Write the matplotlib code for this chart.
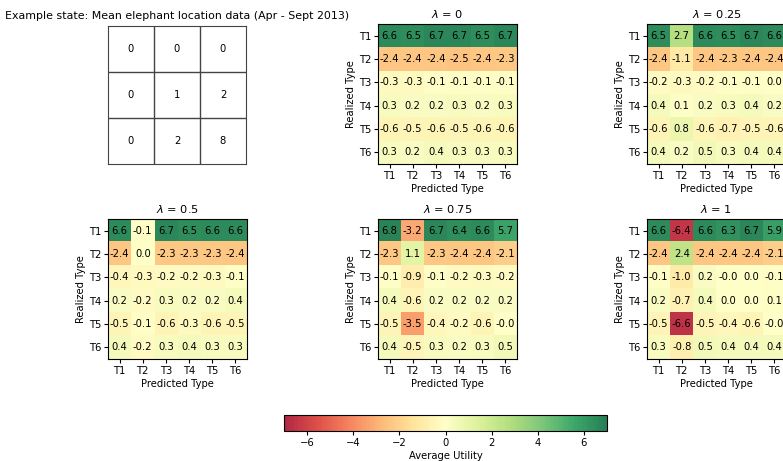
import numpy as np
import matplotlib
matplotlib.use("Agg")
import matplotlib.pyplot as plt
from matplotlib.colors import Normalize

types = ["T1", "T2", "T3", "T4", "T5", "T6"]
state_grid = [[0, 0, 0], [0, 1, 2], [0, 2, 8]]
lambdas = ["0", "0.25", "0.5", "0.75", "1"]

util_l0 = [[6.6, 6.5, 6.7, 6.7, 6.5, 6.7],
           [-2.4, -2.4, -2.4, -2.5, -2.4, -2.3],
           [-0.3, -0.3, -0.1, -0.1, -0.1, -0.1],
           [0.3, 0.2, 0.2, 0.3, 0.2, 0.3],
           [-0.6, -0.5, -0.6, -0.5, -0.6, -0.6],
           [0.3, 0.2, 0.4, 0.3, 0.3, 0.3]]
util_l025 = [[6.5, 2.7, 6.6, 6.5, 6.7, 6.6],
             [-2.4, -1.1, -2.4, -2.3, -2.4, -2.4],
             [-0.2, -0.3, -0.2, -0.1, -0.1, 0.0],
             [0.4, 0.1, 0.2, 0.3, 0.4, 0.2],
             [-0.6, 0.8, -0.6, -0.7, -0.5, -0.6],
             [0.4, 0.2, 0.5, 0.3, 0.4, 0.4]]
util_l05 = [[6.6, -0.1, 6.7, 6.5, 6.6, 6.6],
            [-2.4, 0.0, -2.3, -2.3, -2.3, -2.4],
            [-0.4, -0.3, -0.2, -0.2, -0.3, -0.1],
            [0.2, -0.2, 0.3, 0.2, 0.2, 0.4],
            [-0.5, -0.1, -0.6, -0.3, -0.6, -0.5],
            [0.4, -0.2, 0.3, 0.4, 0.3, 0.3]]
util_l075 = [[6.8, -3.2, 6.7, 6.4, 6.6, 5.7],
             [-2.3, 1.1, -2.3, -2.4, -2.4, -2.1],
             [-0.1, -0.9, -0.1, -0.2, -0.3, -0.2],
             [0.4, -0.6, 0.2, 0.2, 0.2, 0.2],
             [-0.5, -3.5, -0.4, -0.2, -0.6, -0.0],
             [0.4, -0.5, 0.3, 0.2, 0.3, 0.5]]
util_l1 = [[6.6, -6.4, 6.6, 6.3, 6.7, 5.9],
           [-2.4, 2.4, -2.4, -2.4, -2.4, -2.1],
           [-0.1, -1.0, 0.2, -0.0, 0.0, -0.1],
           [0.2, -0.7, 0.4, 0.0, 0.0, 0.1],
           [-0.5, -6.6, -0.5, -0.4, -0.6, -0.0],
           [0.3, -0.8, 0.5, 0.4, 0.4, 0.4]]
matrices = [util_l0, util_l025, util_l05, util_l075, util_l1]

W, H = 783, 461
fig = plt.figure(figsize=(W / 100, H / 100), dpi=100)
FS = 7.2

def px_axes(x0, y0, x1, y1):
    return fig.add_axes([x0 / W, 1 - y1 / H, (x1 - x0) / W, (y1 - y0) / H])

col_x = [108, 378, 647]
row_y = [24, 219]
aw, ah = 139, 140

cmap = plt.get_cmap("RdYlGn")
norm = Normalize(vmin=-7, vmax=7)
ALPHA = 0.85

# state grid
ax0 = px_axes(col_x[0], 26, 246, 164)
g = np.array(state_grid)
n = g.shape[0]
for i in range(n):
    for j in range(n):
        ax0.text(j + 0.5, i + 0.5, str(g[i, j]), ha="center", va="center", fontsize=FS)
for k in range(1, n):
    ax0.axhline(k, color="#444444", lw=1)
    ax0.axvline(k, color="#444444", lw=1)
ax0.set_xlim(0, n)
ax0.set_ylim(n, 0)
ax0.set_xticks([])
ax0.set_yticks([])
for s in ax0.spines.values():
    s.set_color("#444444")
ax0.set_title("Example state: Mean elephant location data (Apr - Sept 2013)", fontsize=7.9, pad=5)

positions = [(1, 0), (2, 0), (0, 1), (1, 1), (2, 1)]
for (c, r), lam, mat in zip(positions, lambdas, matrices):
    x0 = col_x[c]
    y0 = row_y[r]
    ax = px_axes(x0, y0, x0 + aw, y0 + ah)
    m = np.array(mat)
    ax.imshow(m, cmap=cmap, norm=norm, aspect="auto", alpha=ALPHA)
    for i in range(m.shape[0]):
        for j in range(m.shape[1]):
            ax.text(j, i, f"{m[i, j]:.1f}", ha="center", va="center", fontsize=FS, color="black")
    ax.set_xticks(range(len(types)))
    ax.set_xticklabels(types, fontsize=FS)
    ax.set_yticks(range(len(types)))
    ax.set_yticklabels(types, fontsize=FS)
    ax.set_xlabel("Predicted Type", fontsize=FS, labelpad=2)
    ax.set_ylabel("Realized Type", fontsize=FS, labelpad=2)
    ax.set_title(r"$\lambda$ = " + lam, fontsize=8.2, pad=4)
    ax.tick_params(length=3, pad=2)

cax = px_axes(284, 415, 607, 431)
sm = plt.cm.ScalarMappable(cmap=cmap, norm=norm)
cb = fig.colorbar(sm, cax=cax, orientation="horizontal", alpha=ALPHA)
cb.solids.set_alpha(ALPHA)
cb.set_ticks([-6, -4, -2, 0, 2, 4, 6])
cb.ax.tick_params(labelsize=FS, length=3, pad=2)
cb.set_label("Average Utility", fontsize=FS, labelpad=2)

fig.savefig("out.png", dpi=100)
